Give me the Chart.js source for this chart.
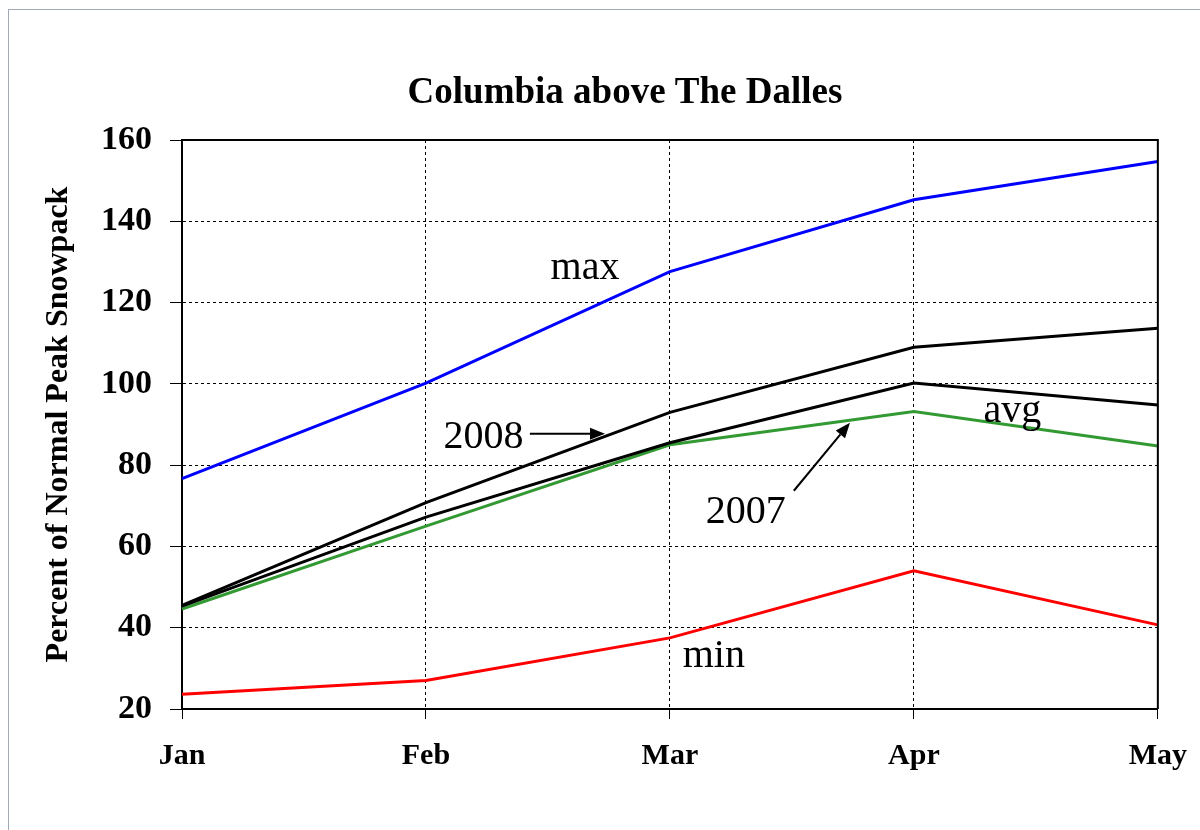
<!DOCTYPE html>
<html>
<head>
<meta charset="utf-8">
<script src="https://cdn.jsdelivr.net/npm/chart.js@4/dist/chart.umd.min.js"></script>
<style>
  html, body { margin: 0; padding: 0; background: #ffffff; }
  #wrap { position: relative; width: 1200px; height: 830px; overflow: hidden; }
  #frame { position: absolute; left: 8px; top: 9px; width: 1300px; height: 900px;
           border-top: 1px solid #a4a9b6; border-left: 1px solid #a4a9b6; pointer-events: none; }
  canvas { position: absolute; left: 0; top: 0; }
</style>
</head>
<body>
<div id="wrap">
  <canvas id="c" width="1200" height="830"></canvas>
  <div id="frame"></div>
</div>
<script>
// ---- data ----
const months = ['Jan', 'Feb', 'Mar', 'Apr', 'May'];
const maxValues  = [76.7, 100.2, 127.6, 145.3, 154.7];
const y2008      = [45.5, 70.8, 93.0, 109.0, 113.7];
const avgValues  = [45.3, 67.2, 85.5, 100.2, 94.8];
const y2007      = [44.6, 65.0, 85.0, 93.2, 84.7];
const minValues  = [23.6, 27.0, 37.5, 54.0, 40.7];
const yTicks     = [20, 40, 60, 80, 100, 120, 140, 160];

const chartTitle = 'Columbia above The Dalles';
const yTitle = 'Percent of Normal Peak Snowpack';

// text labels placed in data coordinates (category index, value)
const noteTexts = ['max', 'min', 'avg', '2008', '2007'];
const noteX     = [1.652, 2.18, 3.404, 1.236, 2.311];
const noteY     = [125.8, 30.3, 90.7, 84.3, 65.8];
// arrows: from (x1,y1) to (x2,y2) in data coordinates
const arrowX1 = [1.426, 2.508];
const arrowY1 = [87.7, 73.7];
const arrowX2 = [1.734, 2.738];
const arrowY2 = [87.7, 90.4];

const SERIF = '"Liberation Serif", "Times New Roman", serif';

const frameAndNotes = {
  id: 'frameAndNotes',
  afterDatasetsDraw(chart) {
    const {ctx, chartArea: a, scales: {x, y}} = chart;
    ctx.save();
    // solid top and right frame lines
    ctx.strokeStyle = '#000';
    ctx.lineWidth = 2;
    ctx.beginPath();
    ctx.moveTo(a.left, a.top);
    ctx.lineTo(a.right, a.top);
    ctx.lineTo(a.right, a.bottom);
    ctx.stroke();

    // annotation texts
    ctx.fillStyle = '#000';
    ctx.font = '40px ' + SERIF;
    ctx.textAlign = 'center';
    ctx.textBaseline = 'alphabetic';
    for (let i = 0; i < noteTexts.length; i++) {
      ctx.fillText(noteTexts[i], x.getPixelForValue(noteX[i]), y.getPixelForValue(noteY[i]));
    }
    // arrows
    ctx.lineWidth = 2;
    for (let i = 0; i < arrowX1.length; i++) {
      const x1 = x.getPixelForValue(arrowX1[i]), y1 = y.getPixelForValue(arrowY1[i]);
      const x2 = x.getPixelForValue(arrowX2[i]), y2 = y.getPixelForValue(arrowY2[i]);
      const ang = Math.atan2(y2 - y1, x2 - x1);
      const hl = 15, hw = 6;
      const bx = x2 - hl * Math.cos(ang), by = y2 - hl * Math.sin(ang);
      ctx.beginPath();
      ctx.moveTo(x1, y1);
      ctx.lineTo(bx, by);
      ctx.stroke();
      ctx.beginPath();
      ctx.moveTo(x2, y2);
      ctx.lineTo(bx + hw * Math.sin(ang), by - hw * Math.cos(ang));
      ctx.lineTo(bx - hw * Math.sin(ang), by + hw * Math.cos(ang));
      ctx.closePath();
      ctx.fill();
    }
    ctx.restore();
  }
};

const line = (label, data, color) => ({
  label, data, borderColor: color, backgroundColor: color,
  borderWidth: 3, pointRadius: 0, pointHoverRadius: 0, tension: 0, fill: false
});

new Chart(document.getElementById('c'), {
  type: 'line',
  data: {
    labels: months,
    datasets: [
      line('max', maxValues, '#0000ff'),
      line('min', minValues, '#ff0000'),
      line('2008', y2008, '#000000'),
      line('avg', avgValues, '#000000'),
      line('2007', y2007, '#339933')
    ]
  },
  options: {
    responsive: false,
    devicePixelRatio: 1,
    animation: false,
    events: [],
    layout: { padding: { left: 92, right: 42, top: 0, bottom: 0 } },
    plugins: {
      legend: { display: false },
      tooltip: { enabled: false },
      title: {
        display: true,
        text: chartTitle,
        color: '#000',
        font: { family: SERIF, size: 37, weight: 'bold', lineHeight: 1.2 },
        padding: { top: 71.2, bottom: 24.4 }
      }
    },
    scales: {
      x: {
        type: 'category',
        offset: false,
        afterFit(s) { s.height = 121; },
        grid: { color: '#000', lineWidth: 1, drawTicks: true, tickLength: 10, tickColor: '#000', tickBorderDash: [] },
        border: { display: true, color: '#000', width: 2, dash: [3, 3] },
        ticks: {
          color: '#000', padding: 13, maxRotation: 0, autoSkip: false,
          font: { family: SERIF, size: 30, weight: 'bold', lineHeight: 1.6 }
        }
      },
      y: {
        min: 20, max: 160,
        afterFit(s) { s.width = 90; },
        afterBuildTicks(s) { s.ticks = yTicks.map(v => ({ value: v })); },
        grid: { color: '#000', lineWidth: 1, drawTicks: true, tickLength: 12, tickColor: '#000', tickBorderDash: [] },
        border: { display: true, color: '#000', width: 2, dash: [3, 3] },
        ticks: {
          color: '#000', padding: 18,
          font: { family: SERIF, size: 34, weight: 'bold', lineHeight: 1.2 }
        },
        title: {
          display: true, text: yTitle, color: '#000',
          font: { family: SERIF, size: 32, weight: 'bold', lineHeight: 1.2 },
          padding: { top: -52.2, bottom: 0 }
        }
      }
    }
  },
  plugins: [frameAndNotes]
});
</script>
</body>
</html>
